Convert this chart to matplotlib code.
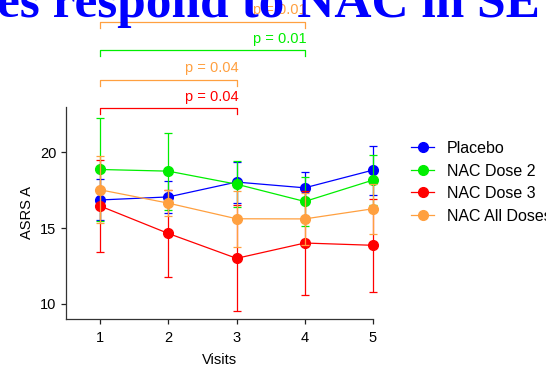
import matplotlib
matplotlib.use("Agg")
import matplotlib.pyplot as plt
from matplotlib.lines import Line2D

visits = [1, 2, 3, 4, 5]
series_names = ["Placebo", "NAC Dose 2", "NAC Dose 3", "NAC All Doses"]
placebo = [16.85, 17.05, 18.03, 17.65, 18.82]
placebo_err = [1.35, 1.08, 1.35, 1.02, 1.62]
dose2 = [18.86, 18.75, 17.89, 16.75, 18.16]
dose2_err = [3.37, 2.54, 1.50, 1.60, 1.66]
dose3 = [16.45, 14.64, 13.00, 14.01, 13.86]
dose3_err = [3.05, 2.85, 3.50, 3.40, 3.05]
alldoses = [17.52, 16.64, 15.61, 15.60, 16.27]
alldoses_err = [2.20, 0.86, 1.85, 1.70, 1.66]

# significance brackets: (start visit, end visit, label)
brackets = [(1, 3, "p = 0.04"), (1, 3, "p = 0.04"), (1, 4, "p = 0.01"), (1, 4, "p = 0.01")]
title_text = "es respond to NAC in SE"

colors = ["#0000FF", "#00EE00", "#FF0000", "#FFA040"]
bracket_colors = ["#FF0000", "#FFA040", "#00EE00", "#FFA040"]
bracket_y = [22.89, 24.76, 26.73, 28.59]

plt.rcParams['font.family'] = ['Liberation Sans', 'DejaVu Sans']

fig = plt.figure(figsize=(5.46, 3.66), dpi=100)
ax = fig.add_axes([66/546, 1-319/366, (373-66)/546, (319-106.7)/366])

fig.text(-0.005, 1-17/366, title_text, color="#0000FF", fontsize=37,
         fontweight="bold", family="Liberation Serif", va="baseline", ha="left", zorder=0)

data = [(placebo, placebo_err), (dose2, dose2_err), (dose3, dose3_err), (alldoses, alldoses_err)]
order = [3, 2, 1, 0]
for i in order:
    vals, errs = data[i]
    ax.errorbar(visits, vals, yerr=errs, color=colors[i], marker="o", markersize=7,
                linewidth=0.9, elinewidth=0.9, capsize=2.6, capthick=0.9,
                clip_on=False, zorder=3 + i)

for (x0, x1, lab), col, yb in zip(brackets, bracket_colors, bracket_y):
    ax.plot([x0, x0, x1, x1], [yb - 0.39, yb, yb, yb - 0.39], color=col, linewidth=0.9,
            clip_on=False)
    ax.text(x1 + 0.03, yb + 0.3, lab, color=col, fontsize=10.5, ha="right", va="bottom")

ax.set_xlim(0.5, 5)
ax.set_ylim(9.0, 23.0)
ax.set_xticks(visits)
ax.set_yticks([10, 15, 20])
ax.tick_params(labelsize=10.5, length=3.5, width=0.9, color="#222222")
ax.tick_params(axis="x", pad=5)
ax.spines["top"].set_visible(False)
ax.spines["right"].set_visible(False)
for s in ["left", "bottom"]:
    ax.spines[s].set_color("#333333")
    ax.spines[s].set_linewidth(0.9)
ax.set_xlabel("Visits", fontsize=10.5, labelpad=6)
ax.set_ylabel("ASRS A", fontsize=10.5, labelpad=4)

handles = [Line2D([], [], color=c, marker="o", markersize=7, linewidth=0.9) for c in colors]
ax.legend(handles, series_names, loc="upper left",
          bbox_to_anchor=(411/546, 1-141/366), bbox_transform=fig.transFigure,
          frameon=False, fontsize=11.5, handlelength=1.45, handletextpad=0.8,
          labelspacing=0.47, borderaxespad=0, borderpad=0)

fig.savefig("out.png", dpi=100)
